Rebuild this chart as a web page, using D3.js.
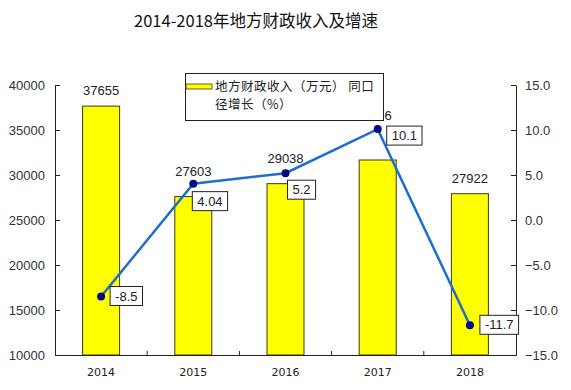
<!DOCTYPE html>
<html><head><meta charset="utf-8">
<script src="https://cdn.jsdelivr.net/npm/d3@7"></script>
<style>body{margin:0;background:#fff}svg{display:block}</style>
</head><body><svg id="c" width="571" height="390"></svg>
<script>
const years = ["2014","2015","2016","2017","2018"];
const revenue = [37655, 27603, 29038, 31666, 27922];
const growth = [-8.5, 4.04, 5.2, 10.1, -11.7];
const growthLabels = ["-8.5","4.04","5.2","10.1","-11.7"];
const leftTicks = [10000,15000,20000,25000,30000,35000,40000];
const rightTicks = [-15,-10,-5,0,5,10,15];
const titleText = "2014-2018年地方财政收入及增速";
const legendLine1 = "地方财政收入（万元） 同口";
const legendLine2 = "径增长（%）";

const svg = d3.select("#c");
const L = 55, R = 516, T = 85, B = 355;
const xb = d3.scaleBand().domain(years).range([L, R]);
const yL = d3.scaleLinear().domain([10000, 40000]).range([B, T]);
const yR = d3.scaleLinear().domain([-15, 15]).range([B, T]);
const font = "Liberation Sans, Arial, sans-serif";

svg.append("text").attr("x", 256).attr("y", 27).attr("text-anchor", "middle")
  .attr("font-family", "'Noto Sans CJK SC', sans-serif").attr("font-size", 16.5).attr("fill", "#111")
  .text(titleText);

// bars
svg.selectAll("rect.bar").data(years).join("rect").attr("class", "bar")
  .attr("x", d => xb(d) + xb.bandwidth()/2 - 18.5)
  .attr("width", 37)
  .attr("y", (d,i) => yL(revenue[i]))
  .attr("height", (d,i) => B - yL(revenue[i]))
  .attr("fill", "#ffff00").attr("stroke", "#3a3a1a").attr("stroke-width", 1);

// bar value labels: lifted further where the growth line passes
const lift = [16, 26, 26, 45, 16];
const shift = [0, 0, 0, -4, 0];
svg.selectAll("text.bl").data(years).join("text").attr("class", "bl")
  .attr("x", (d,i) => xb(d) + xb.bandwidth()/2 + shift[i])
  .attr("y", (d,i) => yL(revenue[i]) - lift[i] + 5)
  .attr("text-anchor", "middle").attr("font-family", font).attr("font-size", 13).attr("fill", "#222")
  .text((d,i) => revenue[i]);

// axes
const axL = d3.axisLeft(yL).tickValues(leftTicks).tickSizeInner(-5).tickSizeOuter(0).tickPadding(10).tickFormat(d3.format("d"));
const gL = svg.append("g").attr("transform", `translate(${L},0)`).call(axL);
const axR = d3.axisRight(yR).tickValues(rightTicks).tickSizeInner(-5).tickSizeOuter(0).tickPadding(9).tickFormat(d3.format(".1f"));
const gR = svg.append("g").attr("transform", `translate(${R},0)`).call(axR);
const axB = d3.axisBottom(xb).tickSize(0).tickPadding(13);
const gB = svg.append("g").attr("transform", `translate(0,${B})`).call(axB);
[gL, gR, gB].forEach(g => {
  g.select(".domain").attr("stroke", "#222");
  g.selectAll(".tick line").attr("stroke", "#222");
  g.selectAll("text").attr("font-family", font).attr("font-size", 13).attr("fill", "#333");
});
gB.selectAll("text").attr("font-family", "'DejaVu Sans', sans-serif").attr("font-size", 11).attr("fill", "#222");
// category boundary ticks on bottom axis
svg.selectAll("line.bt").data(years.slice(1)).join("line").attr("class", "bt")
  .attr("x1", d => xb(d)).attr("x2", d => xb(d)).attr("y1", B).attr("y2", B - 4)
  .attr("stroke", "#222");

// growth line
const cx = (d,i) => xb(years[i]) + xb.bandwidth()/2;
const line = d3.line().x((d,i) => cx(d,i)).y(d => yR(d));
svg.append("path").datum(growth).attr("d", line).attr("fill", "none")
  .attr("stroke", "#1f6dcc").attr("stroke-width", 2.5);
svg.selectAll("circle.pt").data(growth).join("circle").attr("class", "pt")
  .attr("cx", cx).attr("cy", d => yR(d)).attr("r", 4).attr("fill", "#000a80");

// growth label boxes: placement per point (right or below-right)
const place = [{dx:9, dy:-10}, {dx:-1, dy:8}, {dx:2, dy:7}, {dx:9, dy:-3}, {dx:10, dy:-10}];
growth.forEach((g,i) => {
  const px = cx(g,i), py = yR(g);
  const grp = svg.append("g");
  const t = grp.append("text").attr("font-family", font).attr("font-size", 13).attr("fill", "#222")
    .text(growthLabels[i]);
  const w = t.node().getComputedTextLength();
  const bx = px + place[i].dx, by = py + place[i].dy, bw = w + 10, bh = 19;
  grp.insert("rect", "text").attr("x", bx).attr("y", by).attr("width", bw).attr("height", bh)
    .attr("fill", "#fff").attr("stroke", "#222").attr("stroke-width", 1);
  t.attr("x", bx + 5).attr("y", by + 14);
});

// legend (drawn on top, covering most of the 2017 bar label as in the original)
const lg = svg.append("g");
lg.append("clipPath").attr("id", "lc").append("rect").attr("x", 185).attr("y", 73).attr("width", 199).attr("height", 48);
lg.append("rect").attr("x", 185.5).attr("y", 73.5).attr("width", 198).attr("height", 47)
  .attr("fill", "#fff").attr("stroke", "#222");
const lt = lg.append("g").attr("clip-path", "url(#lc)");
lt.append("rect").attr("x", 186).attr("y", 84).attr("width", 26).attr("height", 5)
  .attr("fill", "#ffff00").attr("stroke", "#3a3a1a").attr("stroke-width", 0.8);
lt.append("text").attr("x", 215).attr("y", 91).attr("font-family", "'Noto Sans CJK SC', sans-serif")
  .attr("font-size", 12.5).attr("letter-spacing", 0.5).attr("fill", "#222").text(legendLine1);
lt.append("text").attr("x", 215).attr("y", 109.3).attr("font-family", "'Noto Sans CJK SC', sans-serif")
  .attr("font-size", 12.5).attr("letter-spacing", 0.5).attr("fill", "#222").text(legendLine2);
</script></body></html>
